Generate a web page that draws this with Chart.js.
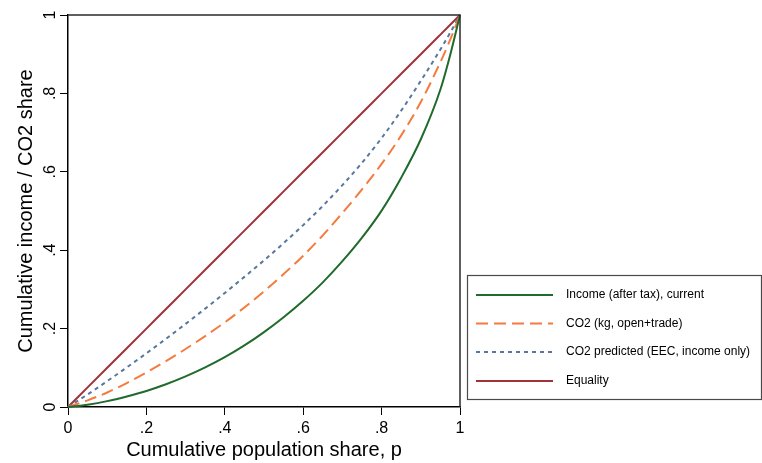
<!DOCTYPE html>
<html>
<head>
<meta charset="utf-8">
<script src="https://cdn.jsdelivr.net/npm/chart.js@4/dist/chart.umd.min.js"></script>
<style>
  html, body { margin: 0; padding: 0; background: #ffffff; }
  #wrap { width: 762px; height: 463px; }
</style>
</head>
<body>
<div id="wrap"><canvas id="c" width="762" height="463"></canvas></div>
<script>
// ---- data ----
const populationShare = [0, 0.05, 0.1, 0.15, 0.2, 0.25, 0.3, 0.35, 0.4, 0.45, 0.5,
                         0.55, 0.6, 0.65, 0.7, 0.75, 0.8, 0.85, 0.9, 0.95, 0.975, 1];
const incomeAfterTax  = [0, 0.006, 0.015, 0.027, 0.041, 0.058, 0.078, 0.101, 0.127, 0.157, 0.191,
                         0.229, 0.271, 0.318, 0.372, 0.432, 0.501, 0.585, 0.683, 0.81, 0.898, 1];
const co2OpenTrade    = [0, 0.017, 0.037, 0.061, 0.088, 0.117, 0.148, 0.181, 0.216, 0.254, 0.295,
                         0.339, 0.386, 0.438, 0.495, 0.555, 0.62, 0.693, 0.778, 0.88, 0.937, 1];
const co2Predicted    = [0, 0.032, 0.066, 0.101, 0.137, 0.174, 0.212, 0.251, 0.291, 0.332, 0.374,
                         0.418, 0.464, 0.513, 0.566, 0.623, 0.686, 0.756, 0.832, 0.912, 0.955, 1];
const equality        = [0, 0.05, 0.1, 0.15, 0.2, 0.25, 0.3, 0.35, 0.4, 0.45, 0.5,
                         0.55, 0.6, 0.65, 0.7, 0.75, 0.8, 0.85, 0.9, 0.95, 0.975, 1];
const seriesLabels = ['Income (after tax), current', 'CO2 (kg, open+trade)',
                      'CO2 predicted (EEC, income only)', 'Equality'];
const tickValues = [0, 0.2, 0.4, 0.6, 0.8, 1];
const tickLabels = ['0', '.2', '.4', '.6', '.8', '1'];
const xTitle = 'Cumulative population share, p';
const yTitle = 'Cumulative income / CO2 share';

const FONT = "'Liberation Sans', Arial, Helvetica, sans-serif";
const toPts = ys => populationShare.map((x, i) => ({ x: x, y: ys[i] }));
const fmtTick = v => {
  const i = tickValues.findIndex(t => Math.abs(t - v) < 1e-9);
  return i >= 0 ? tickLabels[i] : '';
};

const styles = [
  { color: '#1f6b2c', dash: [] },
  { color: '#f47b3e', dash: [12, 6] },
  { color: '#56789f', dash: [4, 4] },
  { color: '#a1323a', dash: [] }
];
const seriesData = [incomeAfterTax, co2OpenTrade, co2Predicted, equality];

const datasets = seriesData.map((ys, i) => ({
  label: seriesLabels[i],
  data: toPts(ys),
  borderColor: styles[i].color,
  backgroundColor: styles[i].color,
  borderDash: styles[i].dash,
  borderWidth: 2,
  pointRadius: 0,
  showLine: true,
  fill: false,
  cubicInterpolationMode: 'monotone',
  clip: 3
}));

// Frame (top/right), rotated y tick labels and boxed legend
const extras = {
  id: 'extras',
  afterDraw(chart) {
    const ctx = chart.ctx;
    const a = chart.chartArea;
    ctx.save();
    // top + right frame
    ctx.strokeStyle = '#2b2b2b';
    ctx.lineWidth = 1.5;
    ctx.beginPath();
    ctx.moveTo(a.left, a.top);
    ctx.lineTo(a.right, a.top);
    ctx.lineTo(a.right, a.bottom);
    ctx.stroke();

    // rotated y tick labels
    const ys = chart.scales.y;
    ctx.fillStyle = '#000';
    ctx.font = '16px ' + FONT;
    ctx.textAlign = 'center';
    ctx.textBaseline = 'alphabetic';
    ys.ticks.forEach(t => {
      const py = ys.getPixelForValue(t.value);
      ctx.save();
      ctx.translate(55, py);
      ctx.rotate(-Math.PI / 2);
      ctx.fillText(fmtTick(t.value), 0, 0);
      ctx.restore();
    });

    // legend box
    const bx = 467.5, by = 275.5, bw = 294, bh = 124;
    ctx.strokeStyle = '#4a4a4a';
    ctx.lineWidth = 1.2;
    ctx.strokeRect(bx, by, bw, bh);
    const rows = [295, 323.5, 352, 381];
    ctx.font = '12px ' + FONT;
    ctx.textAlign = 'left';
    ctx.textBaseline = 'middle';
    chart.data.datasets.forEach((ds, i) => {
      const y = rows[i];
      ctx.strokeStyle = ds.borderColor;
      ctx.lineWidth = 2;
      ctx.setLineDash(ds.borderDash || []);
      ctx.beginPath();
      ctx.moveTo(476, y);
      ctx.lineTo(553, y);
      ctx.stroke();
      ctx.setLineDash([]);
      ctx.fillStyle = '#000';
      ctx.fillText(ds.label, 566, y);
    });
    ctx.restore();
  }
};

new Chart(document.getElementById('c'), {
  type: 'scatter',
  data: { datasets: datasets },
  plugins: [extras],
  options: {
    responsive: false,
    animation: false,
    layout: { padding: { top: 15, right: 302, left: 0, bottom: 0 } },
    plugins: { legend: { display: false }, tooltip: { enabled: false } },
    scales: {
      x: {
        type: 'linear', min: 0, max: 1,
        afterFit(scale) { scale.height = 56; },
        afterBuildTicks(scale) { scale.ticks = tickValues.map(v => ({ value: v })); },
        ticks: {
          callback: v => fmtTick(v),
          color: '#000',
          font: { family: FONT, size: 16 },
          padding: 4,
          maxRotation: 0, minRotation: 0,
          autoSkip: false
        },
        grid: { drawOnChartArea: false, drawTicks: true, tickLength: 8, color: '#000', lineWidth: 1 },
        border: { display: true, color: '#000', width: 1.5 },
        title: {
          display: true, text: xTitle, color: '#000',
          font: { family: FONT, size: 20 },
          padding: { top: 0, bottom: 1 }
        }
      },
      y: {
        type: 'linear', min: 0, max: 1,
        afterFit(scale) { scale.width = 68; },
        afterBuildTicks(scale) { scale.ticks = tickValues.map(v => ({ value: v })); },
        ticks: { display: false },
        grid: { drawOnChartArea: false, drawTicks: true, tickLength: 8, color: '#000', lineWidth: 1 },
        border: { display: true, color: '#000', width: 1.5 },
        title: {
          display: true, text: yTitle, color: '#000',
          font: { family: FONT, size: 20 },
          padding: { top: 14, bottom: 0 }
        }
      }
    }
  }
});
</script>
</body>
</html>
